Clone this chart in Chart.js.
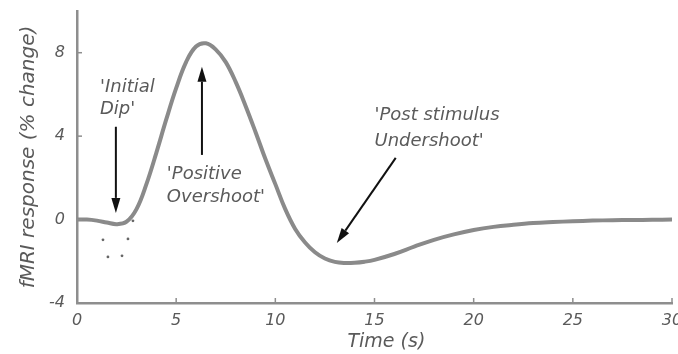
<!DOCTYPE html>
<html><head><meta charset="utf-8">
<style>html,body{margin:0;padding:0;background:#fff;}#wrap{width:678px;height:354px;}</style>
<script src="https://cdn.jsdelivr.net/npm/chart.js@4.4.0/dist/chart.umd.min.js"></script>
</head><body><div id="wrap"><canvas id="c" width="678" height="354"></canvas></div>
<script>
// ---- data ----
const timeSec     = [0,0.5,1,1.5,2,2.5,3,3.5,4,4.5,5,5.5,6,6.5,7,7.5,8,8.5,9,9.5,10,10.5,11,11.5,12,12.5,13,13.5,14,14.5,15,16,17,18,19,20,21,22,23,24,25,26,27,28,29,30];
const responsePct = [0,0,-0.05,-0.14,-0.22,-0.1,0.5,1.7,3.2,4.8,6.3,7.55,8.3,8.45,8.15,7.55,6.6,5.45,4.2,2.9,1.7,0.5,-0.45,-1.1,-1.57,-1.87,-2.03,-2.08,-2.07,-2.02,-1.93,-1.65,-1.3,-0.97,-0.71,-0.5,-0.35,-0.25,-0.17,-0.12,-0.08,-0.05,-0.03,-0.02,-0.01,0];
const noiseTime   = [1.31,2.57,1.56,2.27,2.82];
const noiseResp   = [-0.97,-0.93,-1.79,-1.74,-0.06];
const xTicks = [0,5,10,15,20,25,30];
const yTicks = [-4,0,4,8];
const xTitle = "Time (s)";
const yTitle = "fMRI response (% change)";
// annotation texts anchored in data units [t, value]
const noteTexts = ["'Initial","Dip'","'Positive","Overshoot'","'Post stimulus","Undershoot'"];
const noteT     = [1.16,1.16,4.53,4.53,15.0,15.0];
const noteV     = [6.13,5.07,1.95,0.85,4.79,3.54];
// arrows: from [t,v] to tip [t,v]
const arrowFromT = [1.96,6.3,16.07];
const arrowFromV = [4.45,3.1,2.96];
const arrowToT   = [1.96,6.3,13.1];
const arrowToV   = [0.32,7.33,-1.12];

const FONT = "'DejaVu Sans', 'Liberation Sans', Arial, sans-serif";
const TEXT = '#5a5a5a';
const AXIS = '#8e8e8e';

const extras = {
  id: 'extras',
  afterDraw(chart) {
    const {ctx, scales:{x, y}, chartArea:a} = chart;
    ctx.save();
    // inward tick marks
    ctx.strokeStyle = AXIS; ctx.lineWidth = 1.5;
    xTicks.forEach(v => { const px = x.getPixelForValue(v); ctx.beginPath(); ctx.moveTo(px, a.bottom); ctx.lineTo(px, a.bottom - 5); ctx.stroke(); });
    yTicks.forEach(v => { const py = y.getPixelForValue(v); ctx.beginPath(); ctx.moveTo(a.left, py); ctx.lineTo(a.left + 5, py); ctx.stroke(); });
    // annotation texts
    ctx.fillStyle = TEXT;
    ctx.font = "italic 18px " + FONT;
    ctx.textAlign = 'left'; ctx.textBaseline = 'alphabetic';
    noteTexts.forEach((s, i) => ctx.fillText(s, x.getPixelForValue(noteT[i]), y.getPixelForValue(noteV[i])));
    // arrows
    ctx.strokeStyle = '#111'; ctx.fillStyle = '#111'; ctx.lineWidth = 2;
    arrowFromT.forEach((_, i) => {
      const x1 = x.getPixelForValue(arrowFromT[i]), y1 = y.getPixelForValue(arrowFromV[i]);
      const x2 = x.getPixelForValue(arrowToT[i]),   y2 = y.getPixelForValue(arrowToV[i]);
      const ang = Math.atan2(y2 - y1, x2 - x1), L = 15, W = 4.5;
      const bx = x2 - L * Math.cos(ang), by = y2 - L * Math.sin(ang);
      ctx.beginPath(); ctx.moveTo(x1, y1); ctx.lineTo(bx, by); ctx.stroke();
      ctx.beginPath(); ctx.moveTo(x2, y2);
      ctx.lineTo(bx + W * Math.sin(ang), by - W * Math.cos(ang));
      ctx.lineTo(bx - W * Math.sin(ang), by + W * Math.cos(ang));
      ctx.closePath(); ctx.fill();
    });
    // x-axis title
    ctx.fillStyle = TEXT; ctx.font = "italic 19px " + FONT;
    ctx.textAlign = 'center'; ctx.textBaseline = 'middle';
    ctx.fillText(xTitle, x.getPixelForValue(15.6), 342);
    ctx.restore();
  }
};

new Chart(document.getElementById('c'), {
  type: 'line',
  data: {
    datasets: [
      { data: timeSec.map((t, i) => ({x: t, y: responsePct[i]})), borderColor: '#8a8a8a', borderWidth: 4,
        pointRadius: 0, tension: 0.4, fill: false },
      { data: noiseTime.map((t, i) => ({x: t, y: noiseResp[i]})), showLine: false, pointRadius: 1.4,
        pointBackgroundColor: '#666', pointBorderWidth: 0 }
    ]
  },
  options: {
    responsive: false, animation: false, devicePixelRatio: 1,
    layout: { padding: { left: 0, top: 11, right: 6, bottom: 0 } },
    plugins: { legend: { display: false }, tooltip: { enabled: false } },
    scales: {
      x: {
        type: 'linear', min: 0, max: 30,
        grid: { display: false },
        border: { display: true, color: AXIS, width: 2.5 },
        afterBuildTicks: s => { s.ticks = xTicks.map(v => ({value: v})); },
        afterFit: s => { s.height = 51; s.paddingLeft = 0; s.paddingRight = 0; },
        ticks: { color: TEXT, font: { family: FONT, size: 16, style: 'italic' }, padding: 0, maxRotation: 0 }
      },
      y: {
        min: -4, max: 10,
        grid: { display: false },
        border: { display: true, color: AXIS, width: 2.5 },
        afterBuildTicks: s => { s.ticks = yTicks.map(v => ({value: v})); },
        afterFit: s => { s.width = 77; s.paddingTop = 0; s.paddingBottom = 0; },
        ticks: { color: TEXT, font: { family: FONT, size: 16, style: 'italic' }, padding: 4 },
        title: { display: true, text: yTitle, color: TEXT, font: { family: FONT, size: 20, style: 'italic' }, padding: { top: 17, bottom: 0 } }
      }
    }
  },
  plugins: [extras]
});
</script></body></html>
